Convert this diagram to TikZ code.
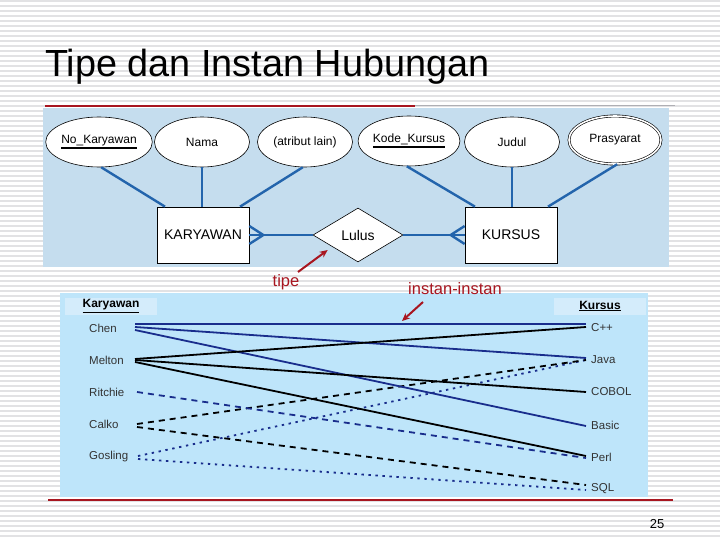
\documentclass[tikz,border=0pt]{standalone}
\usepackage{fontspec}
\setmainfont{Liberation Sans}
\usetikzlibrary{shapes.geometric,calc,arrows.meta}
\definecolor{stripe}{RGB}{226,226,228}
\definecolor{erbg}{RGB}{197,221,238}
\definecolor{instbg}{RGB}{190,229,250}
\definecolor{hdrbg}{RGB}{212,236,251}
\definecolor{erblue}{RGB}{35,100,172}
\definecolor{instblue}{RGB}{25,45,140}
\definecolor{darkred}{RGB}{168,22,32}
\definecolor{rulegray}{RGB}{175,175,180}
\newcommand\tul[1]{\leavevmode\vtop{\hbox{#1}\kern1.2pt\hrule height 2.2pt}}
\tikzset{
  attr/.style={ellipse,draw=black,line width=0.6pt,fill=white,minimum width=95pt,minimum height=50pt,inner sep=0pt,font=\fontsize{12}{14}\selectfont},
  ent/.style={rectangle,draw=black,line width=0.7pt,fill=white,minimum width=92pt,minimum height=56pt,inner sep=0pt,font=\fontsize{14}{16}\selectfont},
  rel/.style={diamond,draw=black,line width=0.6pt,fill=white,minimum width=90pt,minimum height=54pt,inner sep=0pt,aspect=1.67,font=\fontsize{14}{16}\selectfont},
  erline/.style={draw=erblue,line width=2.4pt},
  lbl/.style={anchor=west,inner sep=0pt,text=black!80,font=\fontsize{11.5}{13}\selectfont},
  hdr/.style={fill=hdrbg,minimum width=92pt,minimum height=17pt,inner sep=0pt,font=\bfseries\fontsize{12}{14}\selectfont},
  bsolid/.style={draw=instblue,line width=1.8pt},
  ksolid/.style={draw=black,line width=1.8pt},
  bdash/.style={draw=instblue,line width=1.8pt,dash pattern=on 6pt off 5pt},
  kdash/.style={draw=black,line width=1.8pt,dash pattern=on 6pt off 5pt},
  bdot/.style={draw=instblue,line width=1.8pt,dash pattern=on 2.4pt off 4.6pt},
  redarrow/.style={draw=darkred,line width=2pt,-{Stealth[length=8pt,width=7pt]}},
  redtxt/.style={text=darkred,inner sep=0pt,font=\fontsize{16.5}{18}\selectfont}
}
\begin{document}
\begin{tikzpicture}[x=1pt,y=-1pt]
\useasboundingbox (0,0) rectangle (720,540);
\fill[white] (0,0) rectangle (720,540);
\foreach \yy in {1,6,...,540} \draw[stripe,line width=1.3pt] (0,\yy) -- (720,\yy);
% title
\node[anchor=west,inner sep=0pt,font=\fontsize{37.8}{40}\selectfont] (title) at (45,67) {Tipe dan Instan Hubungan};
\draw[rulegray,line width=1pt] (415,106) -- (675,106);
\draw[darkred,line width=2pt] (45,106) -- (415,106);
% panels
\fill[erbg] (43,108) rectangle (669,267);
\fill[instbg] (60,293) rectangle (648,497);
% ER diagram
\node[attr] (nok) at (99,142) {\tul{No\_Karyawan}};
\node[attr] (nama) at (202,142) {Nama};
\node[attr] (lain) at (305,142) {(atribut lain)};
\node[attr] (kode) at (409,141) {\tul{Kode\_Kursus}};
\node[attr] (judul) at (512,142) {Judul};
\node[attr,double,double distance=1.6pt,minimum width=92pt,minimum height=48pt] (pras) at (615,140) {Prasyarat};
\node[ent] (kar) at (203,235) {KARYAWAN};
\node[rel] (lulus) at (358,235) {Lulus};
\node[ent] (kur) at (511,235) {KURSUS};
\draw[erline] (nok.-85) -- (165,0 |- kar.north);
\draw[erline] (nama.south) -- (nama.south |- kar.north);
\draw[erline] (lain.-95) -- (240,0 |- kar.north);
\draw[erline] (kode.-95) -- (475,0 |- kur.north);
\draw[erline] (judul.south) -- (judul.south |- kur.north);
\draw[erline] (pras.-85) -- (548,0 |- kur.north);
\coordinate (kf) at ($(kar.east)+(14,0)$);
\coordinate (sf) at ($(kur.west)+(-14,0)$);
\draw[erline] ($(kar.east)+(0,-9)$) -- (kf) -- ($(kar.east)+(0,9)$);
\draw[erline] (kar.east) -- (lulus.west);
\draw[erline] ($(kur.west)+(0,-9)$) -- (sf) -- ($(kur.west)+(0,9)$);
\draw[erline] (lulus.east) -- (kur.west);
% labels tipe / instan
\node[redtxt] (tipe) at (286,282) {tipe};
\node[redtxt] (inst) at (455,289) {instan-instan};
\draw[redarrow] (298,272) -- ($(lulus.west)+(15,15)$);
\coordinate (instTip) at (402,321);
\draw[redarrow] (423,302) -- (instTip);
% instance panel
\node[hdr] (hk) at (111,306) {\underline{Karyawan}};
\node[hdr] (hc) at (600,306) {\underline{Kursus}};
\node[lbl] (chen) at (89,328) {Chen};
\node[lbl] (melton) at (89,360) {Melton};
\node[lbl] (ritchie) at (89,392) {Ritchie};
\node[lbl] (calko) at (89,424) {Calko};
\node[lbl] (gosling) at (89,457) {Gosling};
\node[lbl] (cpp) at (591,328) {C++};
\node[lbl] (java) at (591,360) {Java};
\node[lbl] (cobol) at (591,392) {COBOL};
\node[lbl] (basic) at (591,425) {Basic};
\node[lbl] (perl) at (591,457) {Perl};
\node[lbl] (sql) at (591,489) {SQL};
% endpoints
\coordinate (chenA) at (135,324);
\coordinate (chenB) at (135,327);
\coordinate (chenC) at (135,330);
\coordinate (meltA) at (135,359);
\coordinate (meltB) at (135,360);
\coordinate (meltC) at (135,362);
\coordinate (ritA) at (137,392);
\coordinate (calA) at (137,424);
\coordinate (calB) at (137,427);
\coordinate (gosA) at (138,456);
\coordinate (gosB) at (138,459);
\coordinate (cppA) at (586,324);
\coordinate (cppB) at (586,327);
\coordinate (javaA) at (586,358);
\coordinate (javaB) at (586,360);
\coordinate (cobolA) at (586,392);
\coordinate (basicA) at (586,426);
\coordinate (perlA) at (586,456);
\coordinate (perlB) at (586,458);
\coordinate (sqlA) at (586,485);
\coordinate (sqlB) at (586,490);
% instance connectors
\draw[bdot] (gosA) -- (javaB);
\draw[bdot] (gosB) -- (sqlB);
\draw[kdash] (calA) -- (javaB);
\draw[kdash] (calB) -- (sqlA);
\draw[bdash] (ritA) -- (perlB);
\draw[bsolid] (chenA) -- (cppA);
\draw[bsolid] (chenB) -- (javaA);
\draw[bsolid] (chenC) -- (basicA);
\draw[ksolid] (meltA) -- (cppB);
\draw[ksolid] (meltB) -- (cobolA);
\draw[ksolid] (meltC) -- (perlA);
% footer
\draw[darkred,line width=1.2pt] (48,500) -- (673,500);
\node[inner sep=0pt,font=\fontsize{13}{15}\selectfont] (pg) at (657,524) {25};
\end{tikzpicture}
\end{document}
